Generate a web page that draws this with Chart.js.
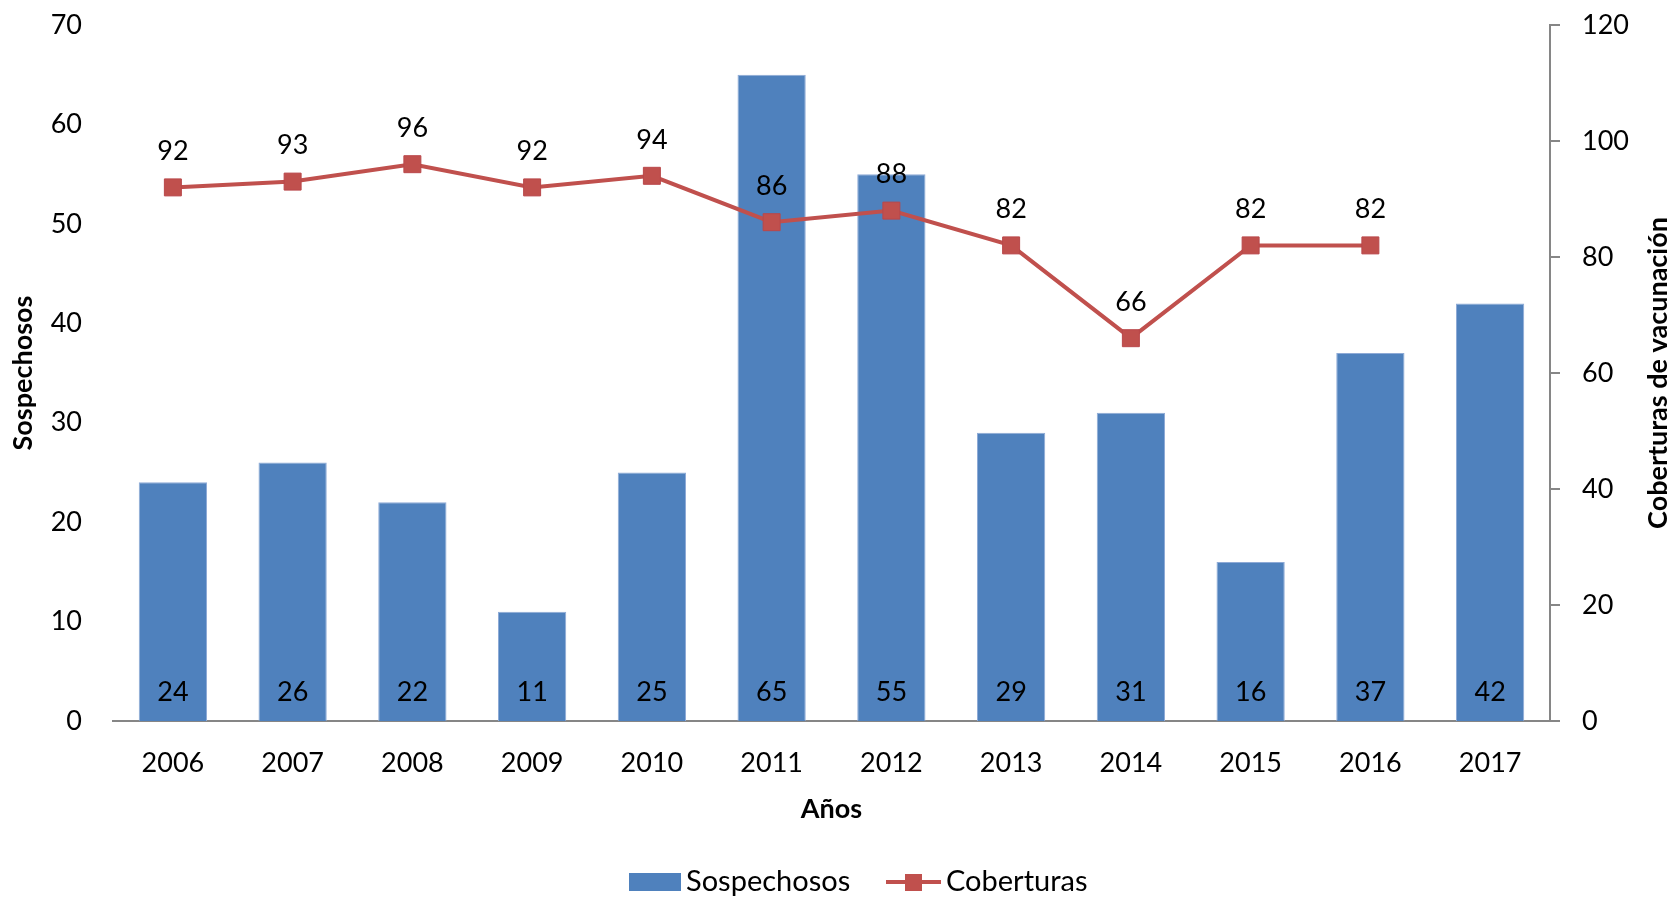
<!DOCTYPE html>
<html>
<head>
<meta charset="utf-8">
<title>Sospechosos y coberturas</title>
<script src="https://cdn.jsdelivr.net/npm/chart.js@4"></script>
<style>
  html, body { margin: 0; padding: 0; background: #fff; }
  canvas { display: block; }
</style>
</head>
<body>
<canvas id="grafico" width="1674" height="897"></canvas>
<script>
// datos
var anios = ['2006', '2007', '2008', '2009', '2010', '2011', '2012', '2013', '2014', '2015', '2016', '2017'];
var sospechosos = [24, 26, 22, 11, 25, 65, 55, 29, 31, 16, 37, 42];
var coberturas = [92, 93, 96, 92, 94, 86, 88, 82, 66, 82, 82, null];

var FUENTE = 'Lato, "Open Sans", sans-serif';
var AZUL = '#4F81BD';
var ROJO = '#C0504D';
var GRIS = '#868686';

// etiquetas de valores (no hay plugin datalabels)
var etiquetas = {
  id: 'etiquetas',
  afterDatasetsDraw: function (chart) {
    var ctx = chart.ctx;
    ctx.save();
    ctx.font = '27px ' + FUENTE;
    ctx.fillStyle = '#000';
    ctx.textAlign = 'center';
    ctx.textBaseline = 'middle';
    chart.getDatasetMeta(1).data.forEach(function (barra, i) {
      ctx.fillText(sospechosos[i], barra.x, barra.base - 29);
    });
    chart.getDatasetMeta(0).data.forEach(function (punto, i) {
      if (coberturas[i] == null) return;
      ctx.fillText(coberturas[i], punto.x, punto.y - 36);
    });
    ctx.restore();
  }
};

// titulo del eje derecho leido de abajo hacia arriba, como en Excel
var tituloDerecho = {
  id: 'tituloDerecho',
  afterDraw: function (chart) {
    var ctx = chart.ctx;
    var area = chart.chartArea;
    ctx.save();
    ctx.translate(1658, (area.top + area.bottom) / 2);
    ctx.rotate(-Math.PI / 2);
    ctx.font = 'bold 27px ' + FUENTE;
    ctx.fillStyle = '#000';
    ctx.textAlign = 'center';
    ctx.textBaseline = 'middle';
    ctx.fillText('Coberturas de vacunación', 0, 0);
    ctx.restore();
  }
};

// leyenda como en Excel: caja azul y linea con marcador
var leyenda = {
  id: 'leyenda',
  afterDraw: function (chart) {
    var ctx = chart.ctx;
    var y = 882;
    ctx.save();
    ctx.font = '29px ' + FUENTE;
    ctx.textBaseline = 'middle';
    ctx.fillStyle = AZUL;
    ctx.fillRect(629, y - 9, 52, 18);
    ctx.fillStyle = '#000';
    ctx.fillText('Sospechosos', 686, y);
    ctx.strokeStyle = ROJO;
    ctx.lineWidth = 4;
    ctx.beginPath();
    ctx.moveTo(886, y);
    ctx.lineTo(941, y);
    ctx.stroke();
    ctx.fillStyle = ROJO;
    ctx.fillRect(905, y - 8, 17, 17);
    ctx.fillStyle = '#000';
    ctx.fillText('Coberturas', 946, y);
    ctx.restore();
  }
};

var ctx = document.getElementById('grafico').getContext('2d');
new Chart(ctx, {
  data: {
    labels: anios,
    datasets: [
      {
        type: 'line',
        label: 'Coberturas',
        data: coberturas,
        yAxisID: 'y1',
        borderColor: ROJO,
        backgroundColor: ROJO,
        borderWidth: 4,
        pointStyle: 'rect',
        pointRadius: 12,
        pointBorderColor: '#B9474A',
        pointBackgroundColor: ROJO,
        pointBorderWidth: 1,
        tension: 0,
        order: 0
      },
      {
        type: 'bar',
        label: 'Sospechosos',
        data: sospechosos,
        yAxisID: 'y',
        backgroundColor: AZUL,
        borderColor: '#8EAAD6',
        borderWidth: 1,
        barPercentage: 0.57,
        categoryPercentage: 1,
        order: 1
      }
    ]
  },
  options: {
    responsive: false,
    animation: false,
    devicePixelRatio: 1,
    layout: { padding: { top: 25, bottom: 72, left: 0, right: 0 } },
    plugins: {
      legend: { display: false },
      tooltip: { enabled: false }
    },
    scales: {
      x: {
        grid: { display: true, drawOnChartArea: false, drawTicks: false },
        border: { display: true, color: GRIS, width: 2 },
        ticks: { color: '#000', font: { family: FUENTE, size: 27 }, padding: 26, maxRotation: 0 },
        title: { display: true, text: 'Años', color: '#000', font: { family: FUENTE, size: 27, weight: 'bold' }, padding: 0 },
        afterFit: function (scale) { scale.height = 104; }
      },
      y: {
        position: 'left',
        min: 0,
        max: 70,
        ticks: { stepSize: 10, color: '#000', font: { family: FUENTE, size: 27 }, padding: 31 },
        grid: { display: false, drawTicks: false },
        border: { display: false },
        title: { display: true, text: 'Sospechosos', color: '#000', font: { family: FUENTE, size: 27, weight: 'bold' }, padding: 7 },
        afterFit: function (scale) {
          scale.width = 113;
          scale.paddingTop = 0;
          scale.paddingBottom = 0;
        }
      },
      y1: {
        position: 'right',
        min: 0,
        max: 120,
        ticks: { stepSize: 20, color: '#000', font: { family: FUENTE, size: 27 }, padding: 22 },
        grid: { display: true, drawOnChartArea: false, drawTicks: true, tickLength: 10, color: GRIS, lineWidth: 2 },
        border: { display: true, color: GRIS, width: 2 },
        title: { display: false },
        afterFit: function (scale) {
          scale.width = 124;
          scale.paddingTop = 0;
          scale.paddingBottom = 0;
        }
      }
    }
  },
  plugins: [etiquetas, tituloDerecho, leyenda]
});
</script>
</body>
</html>
